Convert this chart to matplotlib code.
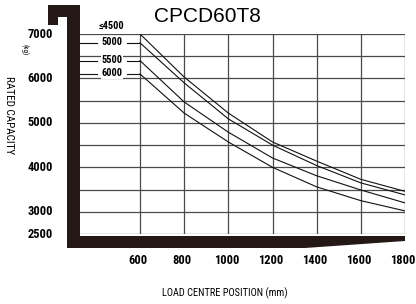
import matplotlib
matplotlib.use("Agg")
import matplotlib.pyplot as plt
from matplotlib.patches import Polygon, Rectangle
from matplotlib.transforms import blended_transform_factory, ScaledTranslation

W, H = 416, 304

# load centre (mm) and rated capacity (kg) per lift height
load_centre = [600, 800, 1000, 1200, 1400, 1600, 1800]
cap_4500 = [7000, 6030, 5220, 4570, 4140, 3730, 3460]
cap_5000 = [6800, 5900, 5090, 4500, 4040, 3650, 3380]
cap_5500 = [6400, 5470, 4790, 4210, 3810, 3490, 3200]
cap_6000 = [6100, 5220, 4570, 4000, 3560, 3250, 3020]
curve_labels = ["≤4500", "5000", "5500", "6000"]

x_ticks = [600, 800, 1000, 1200, 1400, 1600, 1800]
y_ticks = [7000, 6000, 5000, 4000, 3000, 2500]
y_grid = [2500, 3000, 3500, 4000, 4500, 5000, 5500, 6000, 6500, 7000]

NARROW = ["Roboto Condensed", "Liberation Sans Narrow", "Noto Sans", "DejaVu Sans"]
TXT = dict(family=NARROW, stretch="condensed")


def fx(px):
    return px / W


def fy(py):
    return 1 - py / H


fig = plt.figure(figsize=(W / 100, H / 100), dpi=100)
ax = fig.add_axes([fx(80), fy(234), fx(405) - fx(80), fy(34) - fy(234)])
ax.set_xlim(328, 1800)
ax.set_ylim(2500, 7000)

# grid
for v in x_ticks:
    ax.axvline(v, color="#4a4a4a", lw=0.9, zorder=1)
for v in y_grid:
    ax.axhline(v, color="#4a4a4a", lw=0.9, zorder=1)

# curves
for ys in (cap_4500, cap_5000, cap_5500, cap_6000):
    ax.plot(load_centre, ys, color="#111111", lw=0.8, zorder=3)

# curve labels with leaders
ax.text(470, 7000 + 180, curve_labels[0], fontsize=7.5, fontweight="bold",
        ha="center", va="center", **TXT)
for lab, ys in zip(curve_labels[1:], (cap_5000, cap_5500, cap_6000)):
    y0 = ys[0]
    ax.plot([328, 405], [y0, y0], color="#111111", lw=0.8, zorder=3)
    ax.plot([540, 600], [y0, y0], color="#111111", lw=0.8, zorder=3)
    ax.text(472, y0 + 20, lab, fontsize=7.5, fontweight="bold",
            ha="center", va="center", zorder=4,
            bbox=dict(fc="white", ec="none", pad=0.3), **TXT)

ax.set_xticks([])
ax.set_yticks([])
for s in ax.spines.values():
    s.set_visible(False)

# black frame
frame = dict(transform=fig.transFigure, color="#231815", lw=0, zorder=5)
fig.patches.append(Rectangle((fx(67), fy(248)), fx(80) - fx(67), fy(5) - fy(248), **frame))
fig.patches.append(Rectangle((fx(48), fy(17)), fx(80) - fx(48), fy(5) - fy(17), **frame))
fig.patches.append(Rectangle((fx(48), fy(25)), fx(58) - fx(48), fy(5) - fy(25), **frame))
fig.patches.append(Polygon([(fx(67), fy(236)), (fx(405), fy(236)), (fx(405), fy(241)),
                            (fx(305), fy(248)), (fx(67), fy(248))], closed=True, **frame))

# tick labels
xtr = blended_transform_factory(ax.transData, fig.transFigure) + \
    ScaledTranslation(-2 / 100, 0, fig.dpi_scale_trans)
for v in x_ticks:
    ax.text(v, fy(260), str(v), transform=xtr, fontsize=9, fontweight="bold",
            ha="center", va="center", **TXT)
ytr = blended_transform_factory(fig.transFigure, ax.transData)
for v in y_ticks:
    ax.text(fx(53), v, str(v), transform=ytr, fontsize=9, fontweight="bold",
            ha="right", va="center", **TXT)

fig.text(fx(207), fy(16), "CPCD60T8", fontsize=15, family="Liberation Sans",
         ha="center", va="center")
fig.text(fx(225), fy(293), "LOAD CENTRE POSITION (mm)", fontsize=7.5,
         ha="center", va="center", **TXT)
fig.text(fx(9), fy(115), "RATED CAPACITY", fontsize=8,
         rotation=-90, ha="center", va="center", **TXT)
fig.text(fx(24), fy(50), "(kg)", fontsize=5,
         rotation=-90, ha="center", va="center", **TXT)

fig.savefig("out.png", dpi=100)
